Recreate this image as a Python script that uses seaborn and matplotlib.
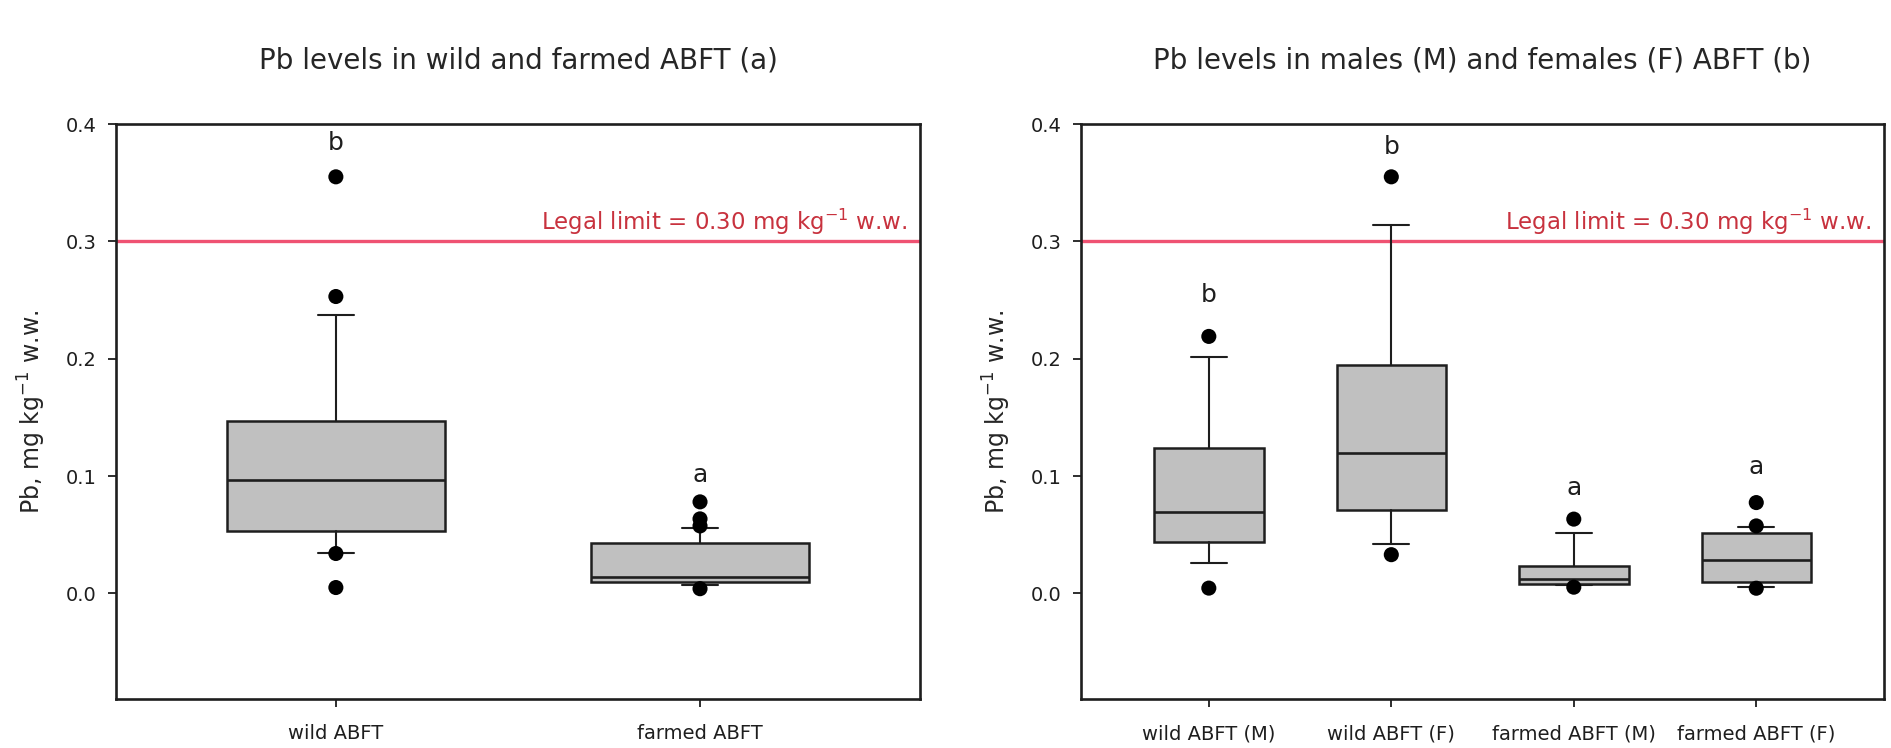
import matplotlib
matplotlib.use("Agg")
import matplotlib.pyplot as plt
import matplotlib.transforms as mtransforms
import pandas as pd
import seaborn as sns

# ---- Panel (a): wild vs farmed ABFT, Pb (mg/kg w.w.) ----
origin_labels = ["wild ABFT", "farmed ABFT"]
origin_q1 = [0.0533, 0.0100]
origin_median = [0.0968, 0.0143]
origin_q3 = [0.1465, 0.0433]
origin_whislo = [0.0345, 0.0070]
origin_whishi = [0.2370, 0.0560]
origin_outliers = [[0.0050, 0.0340, 0.2530, 0.3550],
                   [0.0040, 0.0575, 0.0635, 0.0780]]
origin_letters = ["b", "a"]
origin_letter_y = [0.384, 0.101]

# ---- Panel (b): males (M) and females (F) ----
sex_labels = ["wild ABFT (M)", "wild ABFT (F)", "farmed ABFT (M)", "farmed ABFT (F)"]
sex_q1 = [0.0442, 0.0712, 0.0078, 0.0095]
sex_median = [0.0697, 0.1200, 0.0125, 0.0286]
sex_q3 = [0.1238, 0.1948, 0.0234, 0.0513]
sex_whislo = [0.0257, 0.0420, 0.0070, 0.0058]
sex_whishi = [0.2014, 0.3140, 0.0513, 0.0564]
sex_outliers = [[0.0045, 0.2190],
                [0.0330, 0.3550],
                [0.0053, 0.0633],
                [0.0044, 0.0575, 0.0774]]
sex_letters = ["b", "b", "a", "a"]
sex_letter_y = [0.254, 0.380, 0.090, 0.108]

legal_limit = 0.30
y_ticks = [0.0, 0.1, 0.2, 0.3, 0.4]

sns.set_theme(style="ticks")
plt.rcParams["font.family"] = ["DejaVu Sans"]

INK = "#1e1e1e"
BOX_FACE = "#c0c0c0"
LIMIT_LINE = "#ef5272"
LIMIT_TEXT = "#c8323e"


def draw_panel(ax, labels, q1, med, q3, lo, hi, outliers, letters, letter_y,
               title, xlim, capwidth):
    positions = list(range(len(labels)))
    stats = [dict(label=lab, q1=a, med=m, q3=b, whislo=wl, whishi=wh, fliers=[])
             for lab, a, m, b, wl, wh in zip(labels, q1, med, q3, lo, hi)]

    ax.axhline(legal_limit, color=LIMIT_LINE, lw=2.4, zorder=1.5)

    ax.bxp(stats, positions=positions, widths=0.6, patch_artist=True,
           showfliers=False, capwidths=[capwidth] * len(labels),
           boxprops=dict(facecolor=BOX_FACE, edgecolor=INK, linewidth=1.8),
           medianprops=dict(color=INK, linewidth=1.9),
           whiskerprops=dict(color=INK, linewidth=1.5),
           capprops=dict(color=INK, linewidth=1.5),
           zorder=2)

    pts = pd.DataFrame(
        [(p, v) for p, vals in zip(positions, outliers) for v in vals],
        columns=["pos", "value"])
    sns.scatterplot(data=pts, x="pos", y="value", ax=ax, color="black",
                    s=118, edgecolor="none", zorder=4, legend=False)

    for p, letter, y in zip(positions, letters, letter_y):
        ax.text(p, y, letter, ha="center", va="center", fontsize=18,
                color=INK, zorder=5)

    trans = mtransforms.blended_transform_factory(ax.transAxes, ax.transData)
    ax.text(0.984, 0.3095, r"Legal limit = 0.30 mg kg$^{-1}$ w.w.",
            transform=trans, ha="right", va="baseline", fontsize=16.5,
            color=LIMIT_TEXT, zorder=5)

    ax.set_xlim(*xlim)
    ax.set_ylim(-0.09, 0.4)
    ax.set_xticks(positions)
    ax.set_xticklabels(labels, fontsize=14)
    ax.set_yticks(y_ticks)
    ax.set_yticklabels([f"{t:.1f}" for t in y_ticks], fontsize=14)
    ax.set_xlabel("")
    ax.set_ylabel(r"Pb, mg kg$^{-1}$ w.w.", fontsize=17, labelpad=13)
    ax.set_title(title, fontsize=20, pad=40)

    ax.tick_params(axis="both", direction="out", length=6, width=1.3,
                   color=INK, labelcolor=INK)
    ax.tick_params(axis="x", pad=12)
    ax.tick_params(axis="y", pad=8)
    for side in ["left", "bottom", "top", "right"]:
        ax.spines[side].set_visible(True)
        ax.spines[side].set_color(INK)
        ax.spines[side].set_linewidth(1.9)
    ax.set_facecolor("white")
    ax.grid(False)


fig = plt.figure(figsize=(18.91, 7.48), dpi=100)
fig.patch.set_facecolor("white")
ax_a = fig.add_axes([0.0613, 0.0655, 0.4252, 0.7687])
ax_b = fig.add_axes([0.5717, 0.0655, 0.4246, 0.7687])

draw_panel(ax_a, origin_labels, origin_q1, origin_median, origin_q3,
           origin_whislo, origin_whishi, origin_outliers, origin_letters,
           origin_letter_y, "Pb levels in wild and farmed ABFT (a)",
           (-0.604, 1.604), 0.099)
draw_panel(ax_b, sex_labels, sex_q1, sex_median, sex_q3,
           sex_whislo, sex_whishi, sex_outliers, sex_letters,
           sex_letter_y, "Pb levels in males (M) and females (F) ABFT (b)",
           (-0.70, 3.70), 0.197)

fig.savefig("out.png", dpi=100, facecolor="white")
